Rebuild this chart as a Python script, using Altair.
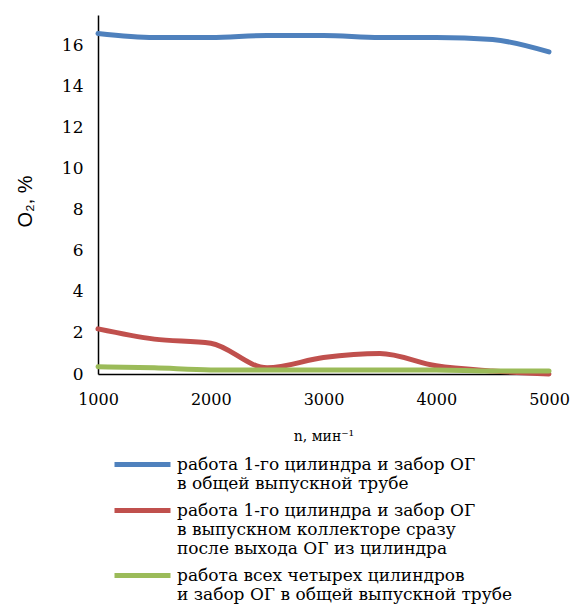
import altair as alt
import pandas as pd

rpm = [1000, 1500, 2000, 2500, 3000, 3500, 4000, 4500, 5000]
o2_one_cyl_pipe = [16.6, 16.4, 16.4, 16.5, 16.5, 16.4, 16.4, 16.3, 15.7]
o2_one_cyl_manifold = [2.2, 1.7, 1.5, 0.3, 0.8, 1.0, 0.4, 0.15, 0.0]
o2_all_cyl_pipe = [0.35, 0.3, 0.2, 0.2, 0.2, 0.2, 0.2, 0.15, 0.15]

series_names = [
    "работа 1-го цилиндра и забор ОГ|в общей выпускной трубе",
    "работа 1-го цилиндра и забор ОГ|в выпускном коллекторе сразу|после выхода ОГ из цилиндра",
    "работа всех четырех цилиндров|и забор ОГ в общей выпускной трубе",
]
series_colors = ["#4F81BD", "#C0504D", "#9BBB59"]
x_ticks = [1000, 2000, 3000, 4000, 5000]
y_ticks = [0, 2, 4, 6, 8, 10, 12, 14, 16]

rows = []
for name, vals in zip(series_names, [o2_one_cyl_pipe, o2_one_cyl_manifold, o2_all_cyl_pipe]):
    for x, v in zip(rpm, vals):
        rows.append({"n": x, "O2": v, "series": name})
df = pd.DataFrame(rows)

SERIF = "DejaVu Serif"

chart = alt.Chart(df).mark_line(
    interpolate="monotone", strokeWidth=5, strokeCap="round"
).encode(
    x=alt.X("n:Q", scale=alt.Scale(domain=[1000, 5000], nice=False),
            axis=alt.Axis(values=x_ticks, title="n, мин⁻¹", format="d",
                          labelFont=SERIF, labelFontSize=16, labelFlush=False,
                          labelColor="#000", labelPadding=17, ticks=False, grid=False,
                          domainColor="#000", domainWidth=1.5,
                          titleFont=SERIF, titleFontSize=14,
                          titleFontWeight="normal", titleColor="#000", titlePadding=22)),
    y=alt.Y("O2:Q", scale=alt.Scale(domain=[0, 17.5], nice=False),
            axis=alt.Axis(values=y_ticks, title="O₂, %",
                          labelFont=SERIF, labelFontSize=17,
                          labelColor="#000", labelPadding=15, ticks=False, grid=False,
                          domainColor="#000", domainWidth=1.5,
                          titleFont="Liberation Sans", titleFontSize=20,
                          titleFontWeight="normal", titleColor="#000", titlePadding=26,
                          titleY=186)),
    color=alt.Color("series:N",
                    scale=alt.Scale(domain=series_names, range=series_colors),
                    legend=alt.Legend(
                        title=None, orient="none", legendX=28, legendY=433,
                        direction="vertical", symbolType="M-2,0H2",
                        symbolSize=784, symbolStrokeWidth=5, padding=0,
                        gridAlign="each", rowPadding=2,
                        labelExpr="split(datum.label, '|')",
                        labelFont=SERIF, labelFontSize=17,
                        labelColor="#000", labelLimit=0, labelOffset=18,
                        labelBaseline="middle",
                    )),
).properties(
    width=451, height=359,
    autosize=alt.AutoSizeParams(type="none"),
    padding={"left": 90, "top": 7, "right": 22, "bottom": 230},
).configure_view(stroke=None)

chart.save("out.html", embed_options={"renderer": "svg", "actions": False})
